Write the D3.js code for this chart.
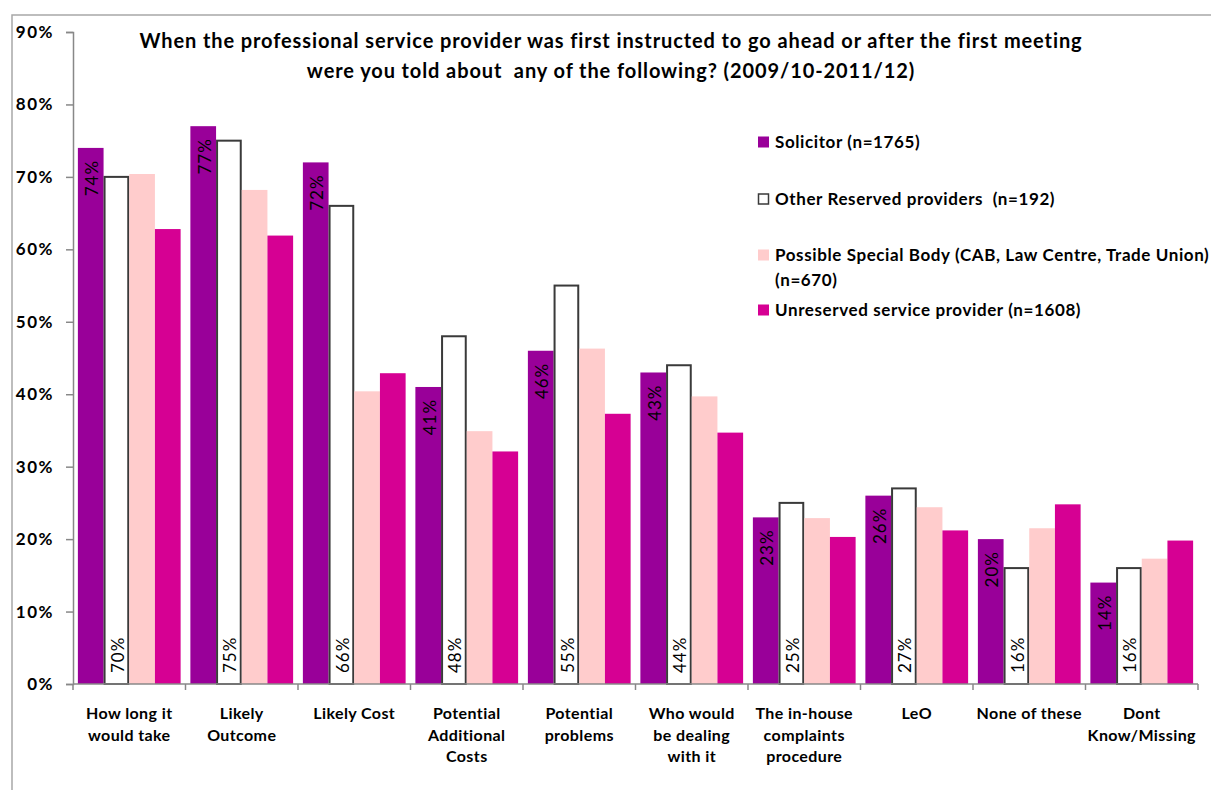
<!DOCTYPE html>
<html>
<head>
<meta charset="utf-8">
<script src="https://cdn.jsdelivr.net/npm/d3@7"></script>
<style>
  html, body { margin: 0; padding: 0; background: #fff; }
  svg { display: block; }
  text { font-family: Lato, "Open Sans", sans-serif; fill: #000; white-space: pre; }
</style>
</head>
<body>
<svg id="chart" width="1211" height="790"></svg>
<script>
const categories = [
  ["How long it", "would take"],
  ["Likely", "Outcome"],
  ["Likely Cost"],
  ["Potential", "Additional", "Costs"],
  ["Potential", "problems"],
  ["Who would", "be dealing", "with it"],
  ["The in-house", "complaints", "procedure"],
  ["LeO"],
  ["None of these"],
  ["Dont", "Know/Missing"]
];
const seriesNames = [
  ["Solicitor (n=1765)"],
  ["Other Reserved providers  (n=192)"],
  ["Possible Special Body (CAB, Law Centre, Trade Union)", "(n=670)"],
  ["Unreserved service provider (n=1608)"]
];
const solicitor   = [74, 77, 72, 41, 46, 43, 23, 26, 20, 14];
const otherRes    = [70, 75, 66, 48, 55, 44, 25, 27, 16, 16];
const specialBody = [70.4, 68.2, 40.4, 34.9, 46.3, 39.7, 22.9, 24.4, 21.5, 17.3];
const unreserved  = [62.8, 61.9, 42.9, 32.1, 37.3, 34.7, 20.3, 21.2, 24.8, 19.8];
const yTicks = [0, 10, 20, 30, 40, 50, 60, 70, 80, 90];
const titleLines = [
  "When the professional service provider was first instructed to go ahead or after the first meeting",
  "were you told about  any of the following? (2009/10-2011/12)"
];

const seriesValues = [solicitor, otherRes, specialBody, unreserved];
const fills = ["#990099", "#ffffff", "#ffcccc", "#d60093"];
const strokes = ["none", "#3a3a3a", "none", "none"];

const svg = d3.select("#chart");

// outer frame
svg.append("path")
  .attr("d", "M12,790 L12,15 L1211,15")
  .attr("fill", "none").attr("stroke", "#a8a8a8").attr("stroke-width", 1.5);

const pLeft = 73, pRight = 1198, pTop = 32, pBottom = 684;
const catIdx = d3.range(categories.length);
const x = d3.scaleBand().domain(catIdx).range([pLeft, pRight]).padding(0);
const xs = d3.scaleBand().domain(d3.range(4)).range([0, x.bandwidth()]).paddingInner(0).paddingOuter(0.19);
const y = d3.scaleLinear().domain([0, 90]).range([pBottom, pTop]);

// y axis
const yAxis = svg.append("g").attr("transform", `translate(${pLeft},0)`)
  .call(d3.axisLeft(y).tickValues(yTicks).tickSize(7).tickPadding(12).tickFormat(d => d + "%"));
yAxis.select(".domain").attr("stroke", "#888").attr("stroke-width", 1.5);
yAxis.selectAll(".tick line").attr("stroke", "#888").attr("stroke-width", 1.5);
yAxis.selectAll(".tick text").style("font-family", "Lato, sans-serif")
  .style("font-size", "17px").style("font-weight", "bold").style("letter-spacing", "1.5px")
  .attr("fill", "#000");

// bars
const groups = svg.append("g");
seriesValues.forEach((vals, si) => {
  groups.selectAll(".s" + si).data(vals).enter().append("rect")
    .attr("x", (d, i) => x(i) + xs(si) + (si === 1 ? 1 : 0))
    .attr("width", xs.bandwidth() - (si === 1 ? 2 : 0))
    .attr("y", d => y(d))
    .attr("height", d => y(0) - y(d))
    .attr("fill", fills[si])
    .attr("stroke", strokes[si])
    .attr("stroke-width", si === 1 ? 2 : 0);
});

// data labels
svg.append("g").selectAll("text").data(solicitor).enter().append("text")
  .attr("transform", (d, i) => `translate(${x(i) + xs(0) + xs.bandwidth() / 2 + 1},${y(d) + 12}) rotate(-90)`)
  .attr("text-anchor", "end").attr("dominant-baseline", "central")
  .style("font-size", "17px").style("letter-spacing", "1px").text(d => d + "%");
svg.append("g").selectAll("text").data(otherRes).enter().append("text")
  .attr("transform", (d, i) => `translate(${x(i) + xs(1) + xs.bandwidth() / 2 + 1},${y(0) - 11}) rotate(-90)`)
  .attr("text-anchor", "start").attr("dominant-baseline", "central")
  .style("font-size", "17px").style("letter-spacing", "1px").text(d => d + "%");

// x axis
const xa = svg.append("g");
xa.append("line").attr("x1", pLeft).attr("x2", pRight).attr("y1", pBottom).attr("y2", pBottom)
  .attr("stroke", "#888").attr("stroke-width", 1.5);
xa.selectAll(".xt").data(catIdx.concat([categories.length])).enter().append("line")
  .attr("x1", d => d < categories.length ? x(d) : pRight)
  .attr("x2", d => d < categories.length ? x(d) : pRight)
  .attr("y1", pBottom).attr("y2", pBottom + 6)
  .attr("stroke", "#888").attr("stroke-width", 1.5);
const xl = xa.selectAll(".xl").data(categories).enter().append("text")
  .attr("text-anchor", "middle")
  .style("font-size", "16px").style("font-weight", "bold").style("letter-spacing", "0.4px");
xl.each(function (lines, i) {
  d3.select(this).selectAll("tspan").data(lines).enter().append("tspan")
    .attr("x", x(i) + x.bandwidth() / 2)
    .attr("y", (l, j) => 719 + j * 21.7)
    .text(l => l);
});

// title
svg.append("g").selectAll("text").data(titleLines).enter().append("text")
  .attr("x", 611).attr("y", (d, i) => 48 + i * 30)
  .attr("text-anchor", "middle")
  .style("font-size", "20px").style("font-weight", "bold").style("letter-spacing", "0.9px")
  .text(d => d);

// legend
const legY = [142, 199, 255, 310];
const leg = svg.append("g");
seriesNames.forEach((lines, si) => {
  leg.append("rect")
    .attr("x", si === 1 ? 758.5 : 758).attr("y", legY[si] - 5.5 + (si === 1 ? 0.5 : 0))
    .attr("width", si === 1 ? 10 : 11).attr("height", si === 1 ? 10 : 11)
    .attr("fill", fills[si]).attr("stroke", strokes[si]).attr("stroke-width", si === 1 ? 1.5 : 0);
  const t = leg.append("text").style("font-size", "17px").style("font-weight", "bold")
    .style("letter-spacing", "0.6px");
  t.selectAll("tspan").data(lines).enter().append("tspan")
    .attr("x", 775).attr("y", (l, j) => legY[si] + 6 + j * 25)
    .text(l => l);
});
</script>
</body>
</html>
